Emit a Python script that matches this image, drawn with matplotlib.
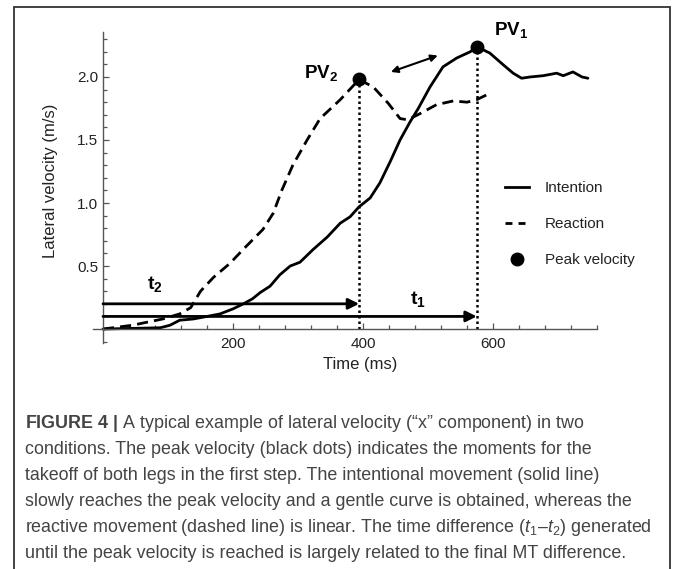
import numpy as np
import matplotlib
matplotlib.use("Agg")
import matplotlib.pyplot as plt
from matplotlib.lines import Line2D
from matplotlib.patches import Rectangle

plt.rcParams['font.family'] = ['Liberation Sans', 'DejaVu Sans']
plt.rcParams['mathtext.fontset'] = 'custom'
plt.rcParams['mathtext.rm'] = 'Liberation Sans'
plt.rcParams['mathtext.it'] = 'Liberation Sans:italic'
plt.rcParams['mathtext.bf'] = 'Liberation Sans:bold'

# reaction (dashed) curve, time in ms, velocity in m/s
reaction_t = [0, 45, 92, 118, 135, 150, 170, 195, 221, 246, 262, 275, 292, 314, 334,
              365, 394, 416, 439, 457, 469, 488, 513, 539, 560, 575, 591]
reaction_v = [0, 0.03, 0.08, 0.12, 0.17, 0.30, 0.41, 0.52, 0.66, 0.79, 0.92, 1.10, 1.30,
              1.50, 1.67, 1.82, 1.98, 1.92, 1.79, 1.67, 1.66, 1.71, 1.78, 1.81, 1.80,
              1.82, 1.86]

# intention (solid) curve
intention_t = [0, 88, 103, 118, 139, 160, 180, 200, 216, 230, 242, 257, 272, 288, 303,
               323, 345, 365, 380, 394, 411, 426, 442, 457, 472, 485, 503, 523, 544,
               565, 575, 595, 615, 631, 644, 657, 677, 698, 708, 723, 737, 746]
intention_v = [0, 0.01, 0.03, 0.07, 0.08, 0.10, 0.12, 0.16, 0.20, 0.24, 0.29, 0.34, 0.43,
               0.50, 0.53, 0.63, 0.73, 0.84, 0.89, 0.97, 1.04, 1.16, 1.33, 1.50, 1.64,
               1.75, 1.92, 2.08, 2.15, 2.20, 2.24, 2.19, 2.10, 2.03, 1.99, 2.00, 2.01,
               2.03, 2.01, 2.04, 2.00, 1.99]

# peak velocities
peak_t = [575, 394]
peak_v = [2.24, 1.98]
peak_names = [r"$\mathbf{PV_1}$", r"$\mathbf{PV_2}$"]
time_names = [r"$\mathbf{t_1}$", r"$\mathbf{t_2}$"]
arrow_levels = [0.10, 0.20]

caption = [
    "$\\mathbf{FIGURE\\ 4\\ |}$ A typical example of lateral velocity (\u201cx\u201d component) in two",
    "conditions. The peak velocity (black dots) indicates the moments for the",
    "takeoff of both legs in the first step. The intentional movement (solid line)",
    "slowly reaches the peak velocity and a gentle curve is obtained, whereas the",
    "reactive movement (dashed line) is linear. The time difference ($t_1$\u2013$t_2$) generated",
    "until the peak velocity is reached is largely related to the final MT difference.",
]

W, H = 673, 569
fig = plt.figure(figsize=(W / 100, H / 100), dpi=100)
ax = fig.add_axes([92.6 / W, 1 - 342.9 / H, 504.4 / W, 311.3 / H])
ax.set_xlim(-16, 760)
ax.set_ylim(-0.11, 2.36)

ax.spines['left'].set_position(('data', 0))
ax.spines['bottom'].set_position(('data', 0))
ax.spines['right'].set_color('none')
ax.spines['top'].set_color('none')
for s in ['left', 'bottom']:
    ax.spines[s].set_color('#555555')
    ax.spines[s].set_linewidth(1.0)

ax.set_xticks([200, 400, 600])
ax.set_xticks([t for t in range(40, 761, 40) if t not in (200, 400, 600)], minor=True)
ax.set_yticks([0.5, 1.0, 1.5, 2.0])
ax.set_yticks([v / 10 for v in range(-1, 24) if v not in (0, 5, 10, 15, 20)], minor=True)
ax.tick_params(which='both', direction='in', color='#555555', width=0.9, labelsize=11,
               labelcolor='#222222')
ax.tick_params(which='major', length=4.5)
ax.tick_params(which='minor', length=2.8)
ax.tick_params(axis='x', pad=6)
ax.tick_params(axis='y', pad=3.5)

ax.plot(intention_t, intention_v, color='black', lw=2.0, solid_capstyle='round')
ax.plot(reaction_t, reaction_v, color='black', lw=2.0, dashes=(4, 2.2))

for t, v in zip(peak_t, peak_v):
    ax.plot([t, t], [0, v], color='black', lw=1.8, linestyle=(0, (1, 1.2)))
ax.plot(peak_t, peak_v, 'o', color='black', ms=9)

ax.text(628, 2.37, peak_names[0], fontsize=13.5, ha='center', va='center')
ax.text(335, 2.03, peak_names[1], fontsize=13.5, ha='center', va='center')

for t, lvl in zip(peak_t, arrow_levels):
    ax.annotate('', xy=(t, lvl), xytext=(0, lvl),
                arrowprops=dict(arrowstyle='-|>', color='black', lw=2.0,
                                mutation_scale=16, shrinkA=0, shrinkB=0))
ax.text(485, 0.235, time_names[0], fontsize=14, ha='center', va='center')
ax.text(80, 0.36, time_names[1], fontsize=14, ha='center', va='center')

ax.annotate('', xy=(515, 2.17), xytext=(443, 2.04),
            arrowprops=dict(arrowstyle='<|-|>', color='black', lw=1.5,
                            mutation_scale=10, shrinkA=0, shrinkB=0))

ax.set_xlabel('Time (ms)', fontsize=12, color='#222222')
ax.xaxis.set_label_coords((360 - 92.6) / 504.4, (342.9 - 357) / 311.3)
ax.set_ylabel('Lateral velocity (m/s)', fontsize=12, color='#222222')
ax.yaxis.set_label_coords((58 - 92.6) / 504.4, (342.9 - 181) / 311.3)

handles = [Line2D([], [], color='black', lw=2.0),
           Line2D([], [], color='black', lw=2.0, dashes=(2.5, 2.2)),
           Line2D([], [], color='black', marker='o', ms=9, linestyle='none')]
ax.legend(handles, ['Intention', 'Reaction', 'Peak velocity'], frameon=False,
          fontsize=11, loc='upper left', bbox_to_anchor=(505 / W, 1 - 181 / H),
          bbox_transform=fig.transFigure, borderpad=0, borderaxespad=0,
          handlelength=1.6, handletextpad=1.0, labelspacing=1.45,
          labelcolor='#222222')

# caption box
fig.add_artist(Rectangle((14 / W, -0.05), 656 / W, 1.05 - 7 / H, transform=fig.transFigure,
                         fill=False, edgecolor='#333333', lw=1.3))

for i, line in enumerate(caption):
    fig.text(25 / W, 1 - (423 + 26 * i) / H, line, fontsize=12.9, color='#444444',
             va='center', ha='left')

fig.savefig('out.png', dpi=100)
